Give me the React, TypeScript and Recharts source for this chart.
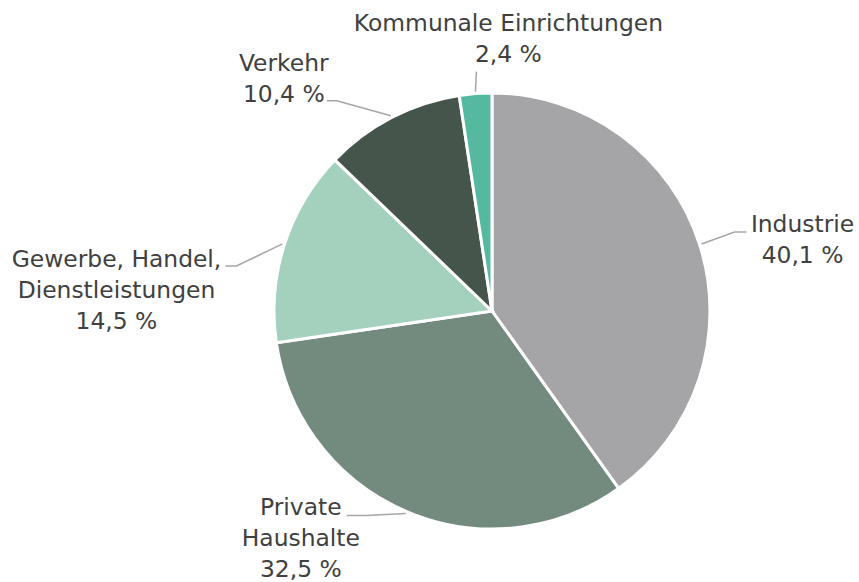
import { PieChart, Pie, Cell } from 'recharts'

const WIDTH = 859
const HEIGHT = 582
const RADIAN = Math.PI / 180
const FONT = '"DejaVu Sans", sans-serif'
const LINE_HEIGHT = 31

const categories = [
  ['Industrie'],
  ['Private', 'Haushalte'],
  ['Gewerbe, Handel,', 'Dienstleistungen'],
  ['Verkehr'],
  ['Kommunale Einrichtungen'],
]
const shares = [40.1, 32.5, 14.5, 10.4, 2.4]
const COLORS = ['#a5a5a7', '#738b7e', '#a4d1be', '#46554c', '#55b9a0']

// leader line layout per slice: elbow relative to slice edge, horizontal tail, text offset from tail end
const LABEL_LAYOUT = [
  { bx: 33, by: -12, tail: 12, tx: 56, ty: 0 },
  { bx: -40, by: 2, tail: -19, tx: -46, ty: 0 },
  { bx: -46, by: 22, tail: -11, tx: -109, ty: 1 },
  { bx: -54, by: -15, tail: -10, tx: -43, ty: -30 },
  { bx: 1, by: -20, tail: 0, tx: 32, ty: -41 },
]

const data = categories.map((lines, i) => ({ name: lines.join(' '), value: shares[i] }))

const fmt = (v: number) => `${v.toFixed(1).replace('.', ',')} %`

function renderLabel(props: any) {
  const { cx, cy, midAngle, outerRadius, index } = props
  const l = LABEL_LAYOUT[index]
  const cos = Math.cos(-midAngle * RADIAN)
  const sin = Math.sin(-midAngle * RADIAN)
  const sx = cx + (outerRadius + 2) * cos
  const sy = cy + (outerRadius + 2) * sin
  const ex = sx + l.bx
  const ey = sy + l.by
  const tx = ex + l.tail
  const lines = [...categories[index], fmt(shares[index])]
  return (
    <g key={index}>
      <polyline
        points={`${sx},${sy} ${ex},${ey} ${tx},${ey}`}
        fill="none"
        stroke="#a6a6a6"
        strokeWidth={1.5}
      />
      <text
        x={tx + l.tx}
        y={ey + l.ty}
        textAnchor="middle"
        fill="#404040"
        fontSize={23.4}
        fontFamily={FONT}
      >
        {lines.map((t, j) => (
          <tspan key={j} x={tx + l.tx} dy={j === 0 ? 0 : LINE_HEIGHT}>{t}</tspan>
        ))}
      </text>
    </g>
  )
}

export default function App() {
  return (
    <div style={{ position: 'absolute', left: 0, top: 0, width: WIDTH, height: HEIGHT, background: '#fff' }}>
      <PieChart width={WIDTH} height={HEIGHT} margin={{ top: 0, right: 0, bottom: 0, left: 0 }}>
        <Pie
          data={data}
          dataKey="value"
          nameKey="name"
          cx={492}
          cy={311}
          outerRadius={218}
          startAngle={90}
          endAngle={-270}
          stroke="#fff"
          strokeWidth={3}
          label={renderLabel}
          labelLine={false}
          isAnimationActive={false}
        >
          {data.map((_, i) => (
            <Cell key={i} fill={COLORS[i]} />
          ))}
        </Pie>
      </PieChart>
    </div>
  )
}
